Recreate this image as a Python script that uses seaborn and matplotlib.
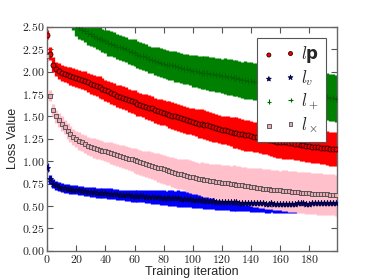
import numpy as np
import pandas as pd
import matplotlib
matplotlib.use("Agg")
import matplotlib.pyplot as plt
import seaborn as sns
from matplotlib.ticker import FuncFormatter, MultipleLocator

iterations = list(range(0, 200, 2))

loss_p = [2.41, 2.20, 2.08, 2.03, 2.01, 1.99, 1.97, 1.96, 1.95, 1.94,
          1.93, 1.92, 1.91, 1.90, 1.88, 1.86, 1.85, 1.84, 1.83, 1.81,
          1.79, 1.78, 1.76, 1.75, 1.73, 1.72, 1.71, 1.70, 1.68, 1.67,
          1.66, 1.64, 1.63, 1.62, 1.61, 1.60, 1.59, 1.57, 1.56, 1.55,
          1.54, 1.53, 1.52, 1.51, 1.50, 1.49, 1.48, 1.47, 1.46, 1.45,
          1.44, 1.43, 1.42, 1.42, 1.41, 1.40, 1.39, 1.38, 1.37, 1.36,
          1.35, 1.35, 1.34, 1.33, 1.32, 1.32, 1.31, 1.30, 1.29, 1.29,
          1.28, 1.27, 1.27, 1.26, 1.25, 1.25, 1.24, 1.24, 1.23, 1.22,
          1.22, 1.21, 1.21, 1.20, 1.20, 1.19, 1.19, 1.18, 1.18, 1.17,
          1.17, 1.16, 1.16, 1.16, 1.15, 1.15, 1.15, 1.14, 1.14, 1.14]
err_p = [0.05, 0.07, 0.08, 0.08, 0.09, 0.09, 0.09, 0.09, 0.10, 0.10,
         0.10, 0.10, 0.10, 0.11, 0.11, 0.11, 0.11, 0.11, 0.12, 0.12,
         0.12, 0.12, 0.12, 0.12, 0.12, 0.13, 0.13, 0.13, 0.13, 0.13,
         0.13, 0.13, 0.13, 0.13, 0.14, 0.14, 0.14, 0.14, 0.14, 0.14,
         0.14, 0.14, 0.15, 0.15, 0.15, 0.15, 0.15, 0.15, 0.15, 0.15,
         0.15, 0.15, 0.16, 0.16, 0.16, 0.16, 0.16, 0.16, 0.16, 0.16,
         0.16, 0.16, 0.16, 0.16, 0.17, 0.17, 0.17, 0.17, 0.17, 0.17,
         0.17, 0.17, 0.17, 0.17, 0.17, 0.17, 0.17, 0.18, 0.18, 0.18,
         0.18, 0.18, 0.18, 0.18, 0.18, 0.18, 0.18, 0.18, 0.18, 0.18,
         0.18, 0.18, 0.18, 0.18, 0.18, 0.18, 0.19, 0.19, 0.19, 0.19]

loss_v = [0.93, 0.80, 0.75, 0.73, 0.715, 0.705, 0.70, 0.695, 0.69, 0.685,
          0.68, 0.675, 0.67, 0.665, 0.66, 0.66, 0.655, 0.65, 0.65, 0.645,
          0.645, 0.64, 0.64, 0.635, 0.63, 0.625, 0.625, 0.62, 0.62, 0.615,
          0.615, 0.61, 0.61, 0.61, 0.605, 0.605, 0.60, 0.60, 0.60, 0.595,
          0.595, 0.59, 0.59, 0.59, 0.585, 0.585, 0.58, 0.58, 0.575, 0.575,
          0.57, 0.57, 0.565, 0.565, 0.56, 0.56, 0.555, 0.555, 0.55, 0.55,
          0.55, 0.545, 0.545, 0.54, 0.54, 0.54, 0.535, 0.535, 0.535, 0.535,
          0.53, 0.53, 0.53, 0.535, 0.53, 0.525, 0.525, 0.53, 0.525, 0.525,
          0.52, 0.52, 0.525, 0.525, 0.52, 0.525, 0.53, 0.53, 0.53, 0.525,
          0.525, 0.53, 0.535, 0.53, 0.53, 0.535, 0.535, 0.53, 0.535, 0.535]
err_v = [0.05, 0.05, 0.05, 0.05, 0.05, 0.05, 0.05, 0.05, 0.05, 0.05,
         0.05, 0.05, 0.05, 0.05, 0.05, 0.055, 0.055, 0.055, 0.055, 0.055,
         0.055, 0.06, 0.06, 0.06, 0.06, 0.06, 0.06, 0.065, 0.065, 0.065,
         0.065, 0.07, 0.07, 0.07, 0.07, 0.075, 0.075, 0.075, 0.08, 0.08,
         0.08, 0.08, 0.085, 0.085, 0.085, 0.09, 0.09, 0.09, 0.09, 0.09,
         0.09, 0.09, 0.09, 0.09, 0.09, 0.09, 0.09, 0.09, 0.09, 0.09,
         0.09, 0.09, 0.09, 0.095, 0.095, 0.095, 0.095, 0.095, 0.095, 0.095,
         0.095, 0.095, 0.095, 0.10, 0.10, 0.10, 0.10, 0.10, 0.10, 0.10,
         0.10, 0.10, 0.10, 0.10, 0.10, 0.10, 0.10, 0.10, 0.10, 0.10,
         0.10, 0.10, 0.10, 0.10, 0.10, 0.10, 0.10, 0.10, 0.10, 0.10]

loss_plus = [3.60, 3.40, 3.25, 3.12, 3.00, 2.90, 2.81, 2.73, 2.66, 2.58,
             2.52, 2.49, 2.47, 2.45, 2.43, 2.42, 2.40, 2.38, 2.37, 2.35,
             2.34, 2.32, 2.31, 2.30, 2.28, 2.27, 2.26, 2.25, 2.23, 2.22,
             2.21, 2.19, 2.18, 2.17, 2.16, 2.14, 2.13, 2.12, 2.11, 2.10,
             2.09, 2.08, 2.07, 2.07, 2.06, 2.05, 2.04, 2.03, 2.03, 2.02,
             2.01, 2.01, 2.00, 1.99, 1.99, 1.98, 1.97, 1.97, 1.96, 1.96,
             1.95, 1.95, 1.94, 1.94, 1.93, 1.93, 1.92, 1.91, 1.91, 1.90,
             1.90, 1.89, 1.89, 1.88, 1.87, 1.87, 1.86, 1.85, 1.85, 1.84,
             1.83, 1.83, 1.82, 1.81, 1.80, 1.80, 1.79, 1.78, 1.78, 1.77,
             1.76, 1.75, 1.75, 1.74, 1.73, 1.73, 1.72, 1.71, 1.71, 1.70]
err_plus = [0.12, 0.12, 0.12, 0.12, 0.12, 0.12, 0.12, 0.12, 0.12, 0.12,
            0.12, 0.12, 0.12, 0.12, 0.13, 0.13, 0.13, 0.13, 0.13, 0.13,
            0.13, 0.14, 0.14, 0.14, 0.14, 0.14, 0.14, 0.14, 0.14, 0.15,
            0.15, 0.15, 0.15, 0.15, 0.15, 0.15, 0.15, 0.16, 0.16, 0.16,
            0.16, 0.16, 0.16, 0.16, 0.17, 0.17, 0.17, 0.17, 0.17, 0.17,
            0.18, 0.18, 0.18, 0.18, 0.18, 0.19, 0.19, 0.19, 0.19, 0.19,
            0.19, 0.20, 0.20, 0.20, 0.20, 0.20, 0.20, 0.20, 0.21, 0.21,
            0.21, 0.21, 0.21, 0.22, 0.22, 0.22, 0.22, 0.22, 0.23, 0.23,
            0.23, 0.23, 0.24, 0.24, 0.24, 0.24, 0.25, 0.25, 0.25, 0.25,
            0.25, 0.25, 0.26, 0.26, 0.26, 0.26, 0.26, 0.26, 0.26, 0.26]

loss_x = [2.17, 1.73, 1.57, 1.50, 1.46, 1.42, 1.38, 1.34, 1.30, 1.27,
          1.25, 1.23, 1.21, 1.19, 1.17, 1.16, 1.15, 1.14, 1.13, 1.12,
          1.11, 1.10, 1.09, 1.08, 1.07, 1.06, 1.05, 1.04, 1.03, 1.02,
          1.01, 1.00, 0.99, 0.98, 0.97, 0.96, 0.95, 0.94, 0.93, 0.92,
          0.91, 0.90, 0.89, 0.88, 0.87, 0.86, 0.86, 0.85, 0.84, 0.83,
          0.82, 0.81, 0.80, 0.80, 0.79, 0.79, 0.78, 0.78, 0.77, 0.77,
          0.76, 0.76, 0.755, 0.75, 0.745, 0.74, 0.735, 0.73, 0.725, 0.72,
          0.715, 0.71, 0.705, 0.70, 0.695, 0.69, 0.69, 0.685, 0.68, 0.68,
          0.675, 0.67, 0.67, 0.665, 0.66, 0.66, 0.655, 0.65, 0.65, 0.645,
          0.645, 0.64, 0.64, 0.635, 0.635, 0.63, 0.63, 0.625, 0.625, 0.62]
err_x = [0.05, 0.06, 0.07, 0.07, 0.08, 0.08, 0.08, 0.09, 0.09, 0.09,
         0.09, 0.10, 0.10, 0.10, 0.10, 0.10, 0.11, 0.11, 0.11, 0.11,
         0.11, 0.11, 0.12, 0.12, 0.12, 0.12, 0.13, 0.13, 0.13, 0.13,
         0.14, 0.14, 0.14, 0.14, 0.15, 0.15, 0.15, 0.15, 0.16, 0.16,
         0.16, 0.16, 0.16, 0.17, 0.17, 0.17, 0.17, 0.17, 0.18, 0.18,
         0.18, 0.18, 0.18, 0.19, 0.19, 0.19, 0.19, 0.19, 0.20, 0.20,
         0.20, 0.20, 0.20, 0.20, 0.21, 0.21, 0.21, 0.21, 0.21, 0.21,
         0.21, 0.22, 0.22, 0.22, 0.22, 0.22, 0.22, 0.22, 0.22, 0.22,
         0.22, 0.23, 0.23, 0.23, 0.23, 0.23, 0.23, 0.23, 0.23, 0.23,
         0.23, 0.23, 0.23, 0.23, 0.23, 0.23, 0.23, 0.23, 0.23, 0.23]

series_labels = [r"$l\mathbf{p}$", r"$l_v$", r"$l_+$", r"$l_\times$"]
x_ticks = [0, 20, 40, 60, 80, 100, 120, 140, 160, 180]

sns.set_style("ticks")
plt.rcParams["font.family"] = ["Liberation Sans", "DejaVu Sans"]
plt.rcParams["mathtext.fontset"] = "custom"
plt.rcParams["mathtext.rm"] = "cmr10"
plt.rcParams["mathtext.it"] = "cmmi10"
plt.rcParams["mathtext.bf"] = "DejaVu Sans:bold"
plt.rcParams["axes.unicode_minus"] = False

frames = []
for lab, m, e in zip(series_labels, [loss_p, loss_v, loss_plus, loss_x],
                     [err_p, err_v, err_plus, err_x]):
    frames.append(pd.DataFrame({"iteration": iterations, "loss": m,
                                "err": e, "series": lab}))
df = pd.concat(frames, ignore_index=True)

band_colors = ["#ff0000", "#0000ff", "#008000", "#ffc0cb"]
face_colors = ["#ee0000", "#000080", "#006400", "#e8a8b4"]
edge_colors = ["#300000", "#000040", "#006400", "#4a4a4a"]
markers = ["o", "*", "+", "s"]
sizes = [13, 20, 16, 12]

fig = plt.figure(figsize=(3.74, 2.80), dpi=100)
ax = fig.add_axes([0.126, 0.104, 0.775, 0.800])

for lab, bc in zip(series_labels, band_colors):
    d = df[df["series"] == lab]
    ax.errorbar(d["iteration"], d["loss"], yerr=d["err"], fmt="none",
                ecolor=bc, elinewidth=2.4, capsize=0, zorder=2)

for lab, fc, ec, mk, sz in zip(series_labels, face_colors, edge_colors,
                               markers, sizes):
    d = df[df["series"] == lab]
    if mk == "+":
        sns.scatterplot(data=d, x="iteration", y="loss", ax=ax, marker=mk,
                        color=fc, s=sz, linewidth=0.8, label=lab, zorder=3)
    else:
        sns.scatterplot(data=d, x="iteration", y="loss", ax=ax, marker=mk,
                        color=fc, edgecolor=ec, s=sz, linewidth=0.6,
                        label=lab, zorder=3)

ax.set_xlim(0, 199)
ax.set_ylim(0, 2.5)
ax.set_xticks(x_ticks)
ax.yaxis.set_major_locator(MultipleLocator(0.25))
ax.xaxis.set_major_formatter(FuncFormatter(lambda v, p: r"$%d$" % v))
ax.yaxis.set_major_formatter(FuncFormatter(lambda v, p: r"$%.2f$" % v))
ax.tick_params(direction="in", top=True, right=True, length=4, width=0.8,
               color="#555555", labelsize=8.5, pad=2, labelcolor="#222222")
for sp in ax.spines.values():
    sp.set_color("#666666")
    sp.set_linewidth(1.0)
ax.set_xlabel("Training iteration", fontsize=9, labelpad=0)
ax.set_ylabel("Loss Value", fontsize=9, labelpad=2)

leg = ax.legend(loc="upper right", scatterpoints=2, fontsize=12,
                frameon=True, fancybox=False, framealpha=1,
                edgecolor="#555555", borderaxespad=0.65, labelspacing=0.18,
                handletextpad=0.35, handlelength=1.9, borderpad=0.4,
                markerscale=0.8)
leg.get_frame().set_linewidth(0.8)

fig.savefig("out.png", dpi=100)
